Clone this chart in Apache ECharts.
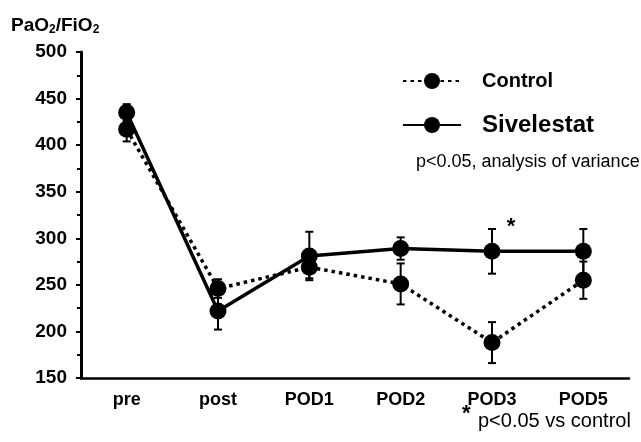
<!DOCTYPE html>
<html><head><meta charset="utf-8">
<script src="https://cdn.jsdelivr.net/npm/echarts@6/dist/echarts.min.js"></script>
<style>html,body{margin:0;padding:0;background:#fff}#c{width:641px;height:442px}</style>
</head><body><div id="c"></div>
<script>
var categories = ['pre', 'post', 'POD1', 'POD2', 'POD3', 'POD5'];
var controlMean = [417, 246, 269, 251, 188, 255];
var controlErr  = [13, 10, 12, 22, 22, 20];
var sivMean     = [435, 222, 281, 289, 286, 286];
var sivErr      = [9, 20, 26, 12, 24, 24];
var yTicks = {min: 150, max: 500, interval: 50};

var FONT = '"Liberation Sans", Arial, sans-serif';

function errData(mean, err) {
  return mean.map(function (m, i) { return [i, m - err[i], m + err[i]]; });
}
function renderErr(params, api) {
  var x = api.value(0);
  var lo = api.coord([x, api.value(1)]);
  var hi = api.coord([x, api.value(2)]);
  var w = 4;
  var st = {stroke: '#000', lineWidth: 2};
  return {type: 'group', children: [
    {type: 'line', shape: {x1: lo[0], y1: lo[1], x2: hi[0], y2: hi[1]}, style: st},
    {type: 'line', shape: {x1: lo[0] - w, y1: lo[1], x2: lo[0] + w, y2: lo[1]}, style: st},
    {type: 'line', shape: {x1: hi[0] - w, y1: hi[1], x2: hi[0] + w, y2: hi[1]}, style: st}
  ]};
}

var sivData = sivMean.map(function (v, i) {
  if (categories[i] === 'POD3') {
    return {value: v, label: {show: true, formatter: '*', position: 'top', offset: [19, 0],
      fontFamily: FONT, fontSize: 22, fontWeight: 'bold', color: '#000'}};
  }
  return v;
});

var chart = echarts.init(document.getElementById('c'));
chart.setOption({
  animation: false,
  backgroundColor: '#fff',
  grid: {left: 81, right: 12, top: 52, bottom: 64},
  legend: {
    orient: 'vertical', left: 397, top: 66, itemGap: 22,
    itemWidth: 58, itemHeight: 20,
    data: ['Control', 'Sivelestat'],
    formatter: function (n) { return n === 'Control' ? '{c|' + n + '}' : '{s|' + n + '}'; },
    textStyle: {
      color: '#000', padding: [0, 0, 0, 16],
      rich: {
        c: {fontFamily: FONT, fontSize: 20, fontWeight: 'bold', color: '#000'},
        s: {fontFamily: FONT, fontSize: 24, fontWeight: 'bold', color: '#000'}
      }
    }
  },
  xAxis: {
    type: 'category', data: categories, boundaryGap: true,
    axisLine: {lineStyle: {color: '#000', width: 2.5}},
    axisTick: {alignWithLabel: true, length: 5, lineStyle: {color: '#000', width: 2}},
    axisLabel: {color: '#000', fontFamily: FONT, fontSize: 18, fontWeight: 'bold', margin: 13}
  },
  yAxis: {
    type: 'value', min: yTicks.min, max: yTicks.max, interval: yTicks.interval,
    name: '{a|PaO}{b|2}{a|/FiO}{b|2}', nameLocation: 'end', nameGap: 16,
    nameTextStyle: {align: 'left', padding: [0, 0, 0, -70],
      rich: {a: {fontFamily: FONT, fontSize: 19, fontWeight: 'bold', color: '#000'},
             b: {fontFamily: FONT, fontSize: 12, fontWeight: 'bold', color: '#000', verticalAlign: 'bottom', padding: [9, 0, 0, 0]}}},
    axisLine: {show: true, lineStyle: {color: '#000', width: 3}},
    axisTick: {show: true, length: 5, lineStyle: {color: '#000', width: 2}},
    minorTick: {show: true, splitNumber: 2, length: 4, lineStyle: {color: '#000', width: 2}},
    splitLine: {show: false},
    axisLabel: {color: '#000', fontFamily: FONT, fontSize: 19, fontWeight: 'bold', margin: 14}
  },
  graphic: [
    {type: 'text', left: 416, top: 153, style: {text: 'p<0.05, analysis of variance', fontFamily: FONT, fontSize: 18, fill: '#000'}},
    {type: 'text', left: 462, top: 403, style: {text: '*', fontFamily: FONT, fontSize: 22, fontWeight: 'bold', fill: '#000'}},
    {type: 'text', left: 478, top: 411, style: {text: 'p<0.05 vs control', fontFamily: FONT, fontSize: 20, fill: '#000'}}
  ],
  series: [
    {type: 'custom', name: 'ctrlErr', renderItem: renderErr, data: errData(controlMean, controlErr), z: 1, silent: true},
    {type: 'custom', name: 'sivErr', renderItem: renderErr, data: errData(sivMean, sivErr), z: 1, silent: true},
    {name: 'Control', type: 'line', data: controlMean, symbol: 'circle', symbolSize: 17,
     itemStyle: {color: '#000'}, lineStyle: {color: '#000', width: 3.5, type: [3.5, 4]}, z: 3},
    {name: 'Sivelestat', type: 'line', data: sivData, symbol: 'circle', symbolSize: 17,
     itemStyle: {color: '#000'}, lineStyle: {color: '#000', width: 3.5, type: 'solid'}, z: 3}
  ]
});
</script></body></html>
